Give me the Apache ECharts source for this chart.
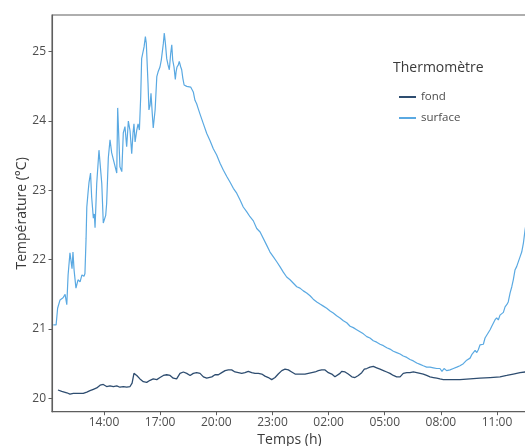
<!DOCTYPE html>
<html>
<head>
<meta charset="utf-8">
<script src="https://cdn.jsdelivr.net/npm/echarts@6/dist/echarts.min.js"></script>
<style>
html,body{margin:0;padding:0;background:#fff;}
#chart{width:525px;height:446px;}
</style>
</head>
<body>
<div id="chart"></div>
<script>
// Time in hours since midnight of the first day (values > 24 are the next day)
const surfaceTime = [11.29,11.44,11.52,11.65,11.81,11.92,12.01,12.08,12.18,12.29,12.34,12.40,12.50,12.61,12.72,12.82,12.93,12.98,13.04,13.08,13.15,13.20,13.28,13.34,13.43,13.48,13.52,13.61,13.73,13.88,13.96,14.09,14.14,14.23,14.32,14.41,14.53,14.68,14.73,14.85,14.95,15.03,15.12,15.21,15.30,15.39,15.48,15.55,15.60,15.66,15.75,15.82,15.89,15.96,16.01,16.08,16.14,16.21,16.26,16.35,16.40,16.46,16.51,16.58,16.63,16.73,16.82,16.89,16.96,16.99,17.06,17.14,17.17,17.22,17.28,17.35,17.42,17.49,17.56,17.62,17.67,17.74,17.81,17.85,17.90,17.97,18.02,18.10,18.15,18.21,18.28,18.42,18.49,18.63,18.70,18.77,18.86,18.95,19.02,19.13,19.31,19.49,19.66,19.84,20.02,20.20,20.38,20.56,20.73,20.91,21.09,21.27,21.44,21.63,21.80,21.98,22.16,22.34,22.69,22.87,23.05,23.23,23.40,23.58,23.76,23.94,24.12,24.30,24.47,24.65,24.83,25.01,25.18,25.37,25.54,25.72,25.90,26.08,26.25,26.43,26.61,26.79,26.97,27.15,27.32,27.50,27.68,27.86,28.04,28.21,28.39,28.57,28.75,28.93,29.11,29.28,29.46,29.64,29.82,29.99,30.18,30.35,30.53,30.71,30.89,31.06,31.24,31.42,31.60,31.78,31.95,32.06,32.17,32.31,32.49,32.67,32.85,33.02,33.20,33.38,33.56,33.65,33.73,33.83,33.92,34.00,34.09,34.18,34.27,34.36,34.45,34.54,34.63,34.72,34.80,34.89,34.98,35.07,35.16,35.25,35.34,35.43,35.52,35.60,35.70,35.79,35.87,35.96,36.05,36.14,36.23,36.32,36.41,36.50,36.60];
const surfaceTemp = [21.06,21.06,21.30,21.42,21.45,21.50,21.35,21.78,22.10,21.87,22.11,21.85,21.59,21.71,21.68,21.78,21.76,21.80,22.30,22.76,22.98,23.12,23.25,22.90,22.60,22.66,22.46,23.10,23.58,23.10,22.53,22.64,22.81,23.47,23.73,23.54,23.41,23.25,24.19,23.34,23.27,23.83,23.92,23.63,24.00,23.86,23.53,23.83,23.96,23.70,23.87,23.96,23.87,24.35,24.90,24.90,25.07,25.22,25.12,24.55,24.16,24.23,24.40,24.10,23.90,24.16,24.64,24.71,24.70,24.78,24.88,24.90,25.12,25.27,25.12,24.90,24.81,24.74,24.97,25.10,24.88,24.78,24.60,24.71,24.78,24.81,24.86,24.78,24.74,24.62,24.52,24.50,24.52,24.49,24.47,24.42,24.30,24.25,24.19,24.10,23.96,23.82,23.72,23.60,23.51,23.39,23.29,23.20,23.12,23.03,22.96,22.86,22.76,22.69,22.62,22.56,22.45,22.40,22.21,22.11,22.04,21.97,21.90,21.82,21.75,21.71,21.66,21.61,21.59,21.55,21.52,21.48,21.43,21.39,21.36,21.33,21.30,21.26,21.23,21.19,21.16,21.12,21.09,21.04,21.02,20.99,20.96,20.93,20.89,20.87,20.83,20.81,20.78,20.76,20.73,20.71,20.68,20.66,20.64,20.61,20.59,20.56,20.54,20.51,20.49,20.47,20.45,20.45,20.44,20.43,20.43,20.39,20.43,20.40,20.41,20.43,20.45,20.47,20.50,20.55,20.58,20.63,20.65,20.69,20.66,20.70,20.77,20.79,20.78,20.87,20.91,20.89,20.99,21.04,21.03,21.13,21.16,21.13,21.20,21.18,21.24,21.32,21.35,21.39,21.52,21.61,21.71,21.85,21.90,21.92,22.04,22.11,22.24,22.43,22.60];

const fondTime = [11.54,11.74,12.01,12.18,12.36,12.54,12.89,13.08,13.25,13.43,13.61,13.79,13.96,14.14,14.32,14.50,14.68,14.85,15.03,15.21,15.39,15.50,15.60,15.75,15.92,16.10,16.28,16.46,16.63,16.82,16.99,17.17,17.35,17.53,17.70,17.88,18.06,18.24,18.42,18.60,18.77,18.95,19.13,19.31,19.49,19.57,19.76,19.93,20.11,20.29,20.47,20.64,20.82,21.00,21.18,21.36,21.53,21.71,21.89,22.07,22.25,22.43,22.60,22.78,22.96,23.14,23.31,23.50,23.67,23.85,24.03,24.21,24.47,24.74,24.92,25.10,25.28,25.45,25.63,25.81,25.99,26.17,26.34,26.43,26.61,26.70,26.88,27.05,27.24,27.41,27.59,27.77,27.91,28.04,28.21,28.39,28.57,28.75,28.93,29.11,29.28,29.46,29.64,29.82,29.99,30.18,30.35,30.53,30.71,30.89,31.06,31.24,31.42,31.60,31.78,31.95,32.13,32.49,33.02,33.56,34.09,34.63,35.16,35.52,35.87,36.23,36.50,36.60];
const fondTemp = [20.12,20.10,20.08,20.06,20.07,20.07,20.07,20.09,20.11,20.13,20.15,20.19,20.20,20.17,20.18,20.17,20.18,20.16,20.17,20.16,20.17,20.22,20.36,20.33,20.28,20.24,20.23,20.26,20.28,20.27,20.30,20.33,20.34,20.33,20.29,20.28,20.36,20.38,20.36,20.33,20.36,20.37,20.36,20.31,20.29,20.28,20.31,20.34,20.34,20.37,20.40,20.41,20.41,20.38,20.37,20.36,20.37,20.39,20.37,20.36,20.36,20.35,20.32,20.30,20.27,20.30,20.35,20.40,20.42,20.41,20.38,20.35,20.35,20.35,20.36,20.37,20.38,20.40,20.41,20.41,20.37,20.35,20.31,20.30,20.36,20.39,20.38,20.35,20.31,20.30,20.33,20.37,20.42,20.43,20.45,20.46,20.44,20.42,20.40,20.38,20.36,20.33,20.31,20.31,20.36,20.37,20.37,20.38,20.37,20.36,20.35,20.33,20.31,20.30,20.29,20.28,20.27,20.27,20.27,20.28,20.29,20.30,20.31,20.33,20.35,20.37,20.38,20.38];

const xTickHours = [14,17,20,23,26,29,32,35];
const yTicks = [20,21,22,23,24,25];

const seriesNames = ['fond','surface'];
const legendTitle = 'Thermomètre';
const xTitle = 'Temps (h)';
const yTitle = 'Température (°C)';

function zip(a,b){return a.map((v,i)=>[v,b[i]]);}
function hourLabel(v){const h=Math.round(v)%24;return (h<10?'0':'')+h+':00';}

const FONT = '"Open Sans", "Noto Sans", sans-serif';
const chart = echarts.init(document.getElementById('chart'), null, {renderer:'canvas'});
chart.setOption({
  animation:false,
  backgroundColor:'#ffffff',
  grid:{left:52,right:-10,top:15,bottom:34.3,containLabel:false,outerBoundsMode:'none',
        show:true,borderColor:'#5e5e5e',borderWidth:1.1,backgroundColor:'transparent'},
  xAxis:{
    type:'value',min:11.22,max:37.03,
    name:xTitle,nameLocation:'middle',nameGap:21,nameMoveOverlap:false,
    nameTextStyle:{fontFamily:FONT,fontSize:14,color:'#3a3a3a',padding:[0,8,0,0]},
    axisLine:{show:true,lineStyle:{color:'#5e5e5e',width:1.1}},
    axisTick:{show:true,customValues:xTickHours,length:3.5,lineStyle:{color:'#5e5e5e'}},
    axisLabel:{customValues:xTickHours,formatter:hourLabel,fontFamily:FONT,fontSize:12,color:'#4d4d4d',margin:5},
    splitLine:{show:false}
  },
  yAxis:{
    type:'value',min:19.807,max:25.53,
    name:yTitle,nameLocation:'middle',nameGap:23,nameMoveOverlap:false,
    nameTextStyle:{fontFamily:FONT,fontSize:14,color:'#3a3a3a'},
    axisLine:{show:true,lineStyle:{color:'#5e5e5e',width:1.1}},
    axisTick:{show:true,customValues:yTicks,length:3.5,lineStyle:{color:'#5e5e5e'}},
    axisLabel:{customValues:yTicks,fontFamily:FONT,fontSize:12,color:'#4d4d4d',margin:6},
    splitLine:{show:false}
  },
  legend:{
    orient:'vertical',left:394,top:86,itemGap:9,itemWidth:17,itemHeight:2,icon:'rect',
    textStyle:{fontFamily:FONT,fontSize:11.5,color:'#4d4d4d'},
    data:seriesNames
  },
  graphic:[{type:'text',left:393,top:61,style:{text:legendTitle,font:'14px "Open Sans", sans-serif',fill:'#3a3a3a'}}],
  series:[
    {name:seriesNames[0],type:'line',data:zip(fondTime,fondTemp),showSymbol:false,smooth:false,
     lineStyle:{color:'#2e4d70',width:1.3},itemStyle:{color:'#2e4d70'},clip:true},
    {name:seriesNames[1],type:'line',data:zip(surfaceTime,surfaceTemp),showSymbol:false,smooth:false,
     lineStyle:{color:'#5aa9e2',width:1.2},itemStyle:{color:'#5aa9e2'},clip:true}
  ]
});
</script>
</body>
</html>
